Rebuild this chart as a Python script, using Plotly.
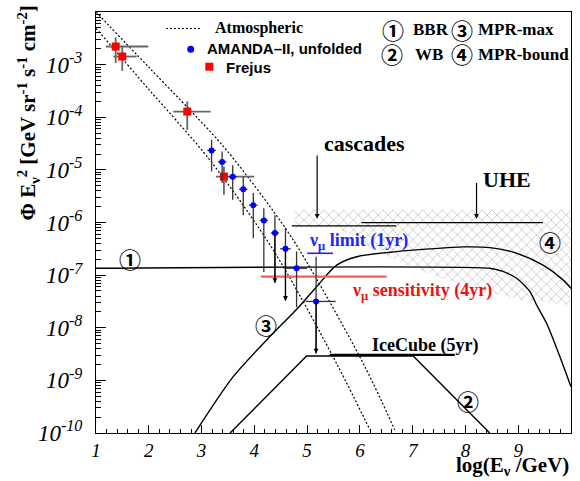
import numpy as np
import plotly.graph_objects as go

# ---------------- data (x = log10(E/GeV), y = log10 flux) ----------------
atm_hi_x = [1.0, 2.0, 3.19, 3.60, 4.61, 5.116, 6.095, 6.66]
atm_hi_y = [-2.0, -3.05, -4.30, -4.78, -6.14, -6.964, -8.74, -9.94]
atm_lo_x = [1.0, 2.0, 3.13, 4.11, 4.62, 5.59, 6.19]
atm_lo_y = [-2.31, -3.47, -4.78, -6.14, -6.96, -8.74, -9.94]

amanda_x = [3.19, 3.39, 3.59, 3.79, 3.98, 4.18, 4.39, 4.59, 4.80, 5.17]
amanda_y = [-4.63, -4.85, -5.13, -5.37, -5.67, -5.96, -6.20, -6.50, -6.87, -7.50]
amanda_hi = [-4.43, -4.65, -4.91, -5.13, -5.44, -5.73, -5.86, -6.10, -6.55, -6.65]
amanda_lo = [-5.03, -5.25, -5.57, -5.86, -6.30, -6.94, -7.15, -7.49, -7.61, -8.49]
amanda_xm = [0.08, 0.08, 0.08, 0.08, 0.08, 0.08, 0.08, 0.1, 0.2, 0.2]
amanda_xp = [0.08, 0.08, 0.08, 0.08, 0.08, 0.08, 0.08, 0.1, 0.2, 0.37]
amanda_arrow = [False, False, False, False, False, False, True, True, False, True]

frejus_x = [1.373, 1.498, 2.729, 3.424]
frejus_y = [-2.656, -2.846, -3.892, -5.127]
frejus_hi = [-2.485, -2.656, -3.70, -4.937]
frejus_lo = [-2.971, -3.118, -4.24, -5.475]
frejus_xlo = [1.189, 1.328, 2.464, 3.273]
frejus_xhi = [1.99, 1.771, 3.172, 3.998]

bbr_x = [1.0, 8.46, 8.71, 8.97, 9.22, 9.35, 9.54, 9.79, 10.0]
bbr_y = [-6.87, -6.87, -6.93, -7.06, -7.31, -7.57, -7.92, -8.55, -9.12]

wb_x = [3.54, 4.99, 7.01, 8.46]
wb_y = [-10.0, -8.536, -8.536, -10.0]

mpr_x = [2.875, 3.60, 4.233, 4.82, 5.18, 5.56, 5.94, 6.695, 7.326, 7.957, 8.462, 8.968, 9.47, 9.85, 10.0]
mpr_y = [-10.0, -8.93, -8.232, -7.63, -7.22, -6.81, -6.65, -6.553, -6.502, -6.464, -6.477, -6.584, -6.81, -7.09, -7.25]

hatch_x = [4.769, 10.0, 10.0, 9.03, 8.27, 7.515, 6.758, 6.19, 5.716, 5.527, 4.769]
hatch_y = [-5.76, -5.76, -7.57, -7.47, -7.28, -7.05, -6.75, -6.48, -6.18, -6.10, -6.10]

cascade_x = [4.71, 6.69]
cascade_y = -6.065
uhe_x = [6.03, 9.47]
uhe_y = -6.002
limit_x = [5.0, 5.49]
limit_y = -6.585
sens_x = [4.125, 6.505]
sens_y = -7.03
icecube_x = [5.43, 7.80]
icecube_y = -8.517

cascade_arrow = (5.19, -4.70, -5.93)
uhe_arrow = (8.21, -5.22, -5.93)

y_decades = [-3, -4, -5, -6, -7, -8, -9, -10]
x_ticks = [1, 2, 3, 4, 5, 6, 7, 8, 9, 10]

SERIF = "Liberation Serif, Times New Roman, serif"
SANS = "Liberation Sans, Arial, sans-serif"
CIRC = "Noto Sans CJK JP, DejaVu Sans, serif"

p10 = lambda v: [10.0 ** a for a in v]

fig = go.Figure()

# hatched region
fig.add_trace(go.Scatter(x=hatch_x, y=p10(hatch_y), mode="lines", fill="toself",
                         line=dict(width=0), fillcolor="rgba(255,255,255,0)",
                         fillpattern=dict(shape="x", fgcolor="#8c8c8c", bgcolor="rgba(255,255,255,0)",
                                          size=7, solidity=0.22),
                         hoverinfo="skip", showlegend=False))

# atmospheric
for xs, ys in [(atm_hi_x, atm_hi_y), (atm_lo_x, atm_lo_y)]:
    fig.add_trace(go.Scatter(x=xs, y=p10(ys), mode="lines", line=dict(color="black", width=1.2, dash="2px,2px"),
                             line_shape="spline", showlegend=False))

# model curves
fig.add_trace(go.Scatter(x=bbr_x, y=p10(bbr_y), mode="lines", line=dict(color="black", width=1.4, shape="spline", smoothing=0.6), showlegend=False))
fig.add_trace(go.Scatter(x=wb_x, y=p10(wb_y), mode="lines", line=dict(color="black", width=1.4), showlegend=False))
fig.add_trace(go.Scatter(x=mpr_x, y=p10(mpr_y), mode="lines", line=dict(color="black", width=1.4, shape="spline", smoothing=0.8), showlegend=False))

# limits
fig.add_trace(go.Scatter(x=cascade_x, y=[10 ** cascade_y] * 2, mode="lines", line=dict(color="black", width=1.4), showlegend=False))
fig.add_trace(go.Scatter(x=uhe_x, y=[10 ** uhe_y] * 2, mode="lines", line=dict(color="black", width=1.4), showlegend=False))
fig.add_trace(go.Scatter(x=limit_x, y=[10 ** limit_y] * 2, mode="lines", line=dict(color="#2222ff", width=1.6), showlegend=False))
fig.add_trace(go.Scatter(x=sens_x, y=[10 ** sens_y] * 2, mode="lines", line=dict(color="#ff5a5a", width=2.2), showlegend=False))
fig.add_trace(go.Scatter(x=icecube_x, y=[10 ** icecube_y] * 2, mode="lines", line=dict(color="black", width=2.2), showlegend=False))

# Frejus
fy = np.array(p10(frejus_y))
fig.add_trace(go.Scatter(
    x=frejus_x, y=fy, mode="markers",
    marker=dict(symbol="square", size=8, color="#ff0000"),
    error_y=dict(type="data", symmetric=False, array=np.array(p10(frejus_hi)) - fy,
                 arrayminus=fy - np.array(p10(frejus_lo)), color="#666666", thickness=1.8, width=0),
    error_x=dict(type="data", symmetric=False, array=np.array(frejus_xhi) - np.array(frejus_x),
                 arrayminus=np.array(frejus_x) - np.array(frejus_xlo), color="#666666", thickness=1.8, width=0),
    showlegend=False))

# AMANDA
ay_ = np.array(p10(amanda_y))
fig.add_trace(go.Scatter(
    x=amanda_x, y=ay_, mode="markers",
    marker=dict(symbol="circle", size=6, color="#0000ff"),
    error_y=dict(type="data", symmetric=False, array=np.array(p10(amanda_hi)) - ay_,
                 arrayminus=ay_ - np.array(p10(amanda_lo)), color="#333333", thickness=1.3, width=0),
    error_x=dict(type="data", symmetric=False, array=amanda_xp, arrayminus=amanda_xm,
                 color="#333333", thickness=1.3, width=0),
    showlegend=False))

ann = []
for xv, yv, lo, arr in zip(amanda_x, amanda_y, amanda_lo, amanda_arrow):
    if arr:
        ann.append(dict(x=xv, y=lo, ax=xv, ay=yv, xref="x", yref="y", axref="x", ayref="y",
                        showarrow=True, arrowhead=2, arrowsize=0.8, arrowwidth=1.2, arrowcolor="black", text=""))
for (xv, y0, y1) in [cascade_arrow, uhe_arrow]:
    ann.append(dict(x=xv, y=y1, ax=xv, ay=y0, xref="x", yref="y", axref="x", ayref="y",
                    showarrow=True, arrowhead=2, arrowsize=0.8, arrowwidth=1.2, arrowcolor="black", text=""))

# pixel helpers for layout decorations
L, R, T, B = 96, 571, 12, 433
px = lambda v: (v - L) / (R - L)
py = lambda v: (B - v) / (B - T)

def txt(text, x, y, size, color="black", family=SERIF, xanchor="center", ref="data"):
    if ref == "data":
        return dict(x=x, y=y, xref="x", yref="y", text=text, showarrow=False,
                    font=dict(family=family, size=size, color=color), xanchor=xanchor, yanchor="middle")
    return dict(x=px(x), y=py(y), xref="paper", yref="paper", text=text, showarrow=False,
                font=dict(family=family, size=size, color=color), xanchor=xanchor, yanchor="middle")

ann += [
    txt("<b>cascades</b>", 6.09, -4.49, 22),
    txt("<b>UHE</b>", 8.78, -5.19, 22),
    txt("<b>IceCube (5yr)</b>", 7.23, -8.33, 18),
    txt("<b>ν<sub>μ</sub> sensitivity (4yr)</b>", 7.18, -7.31, 18, color="#ee1111"),
    txt("<b>ν<sub>μ</sub> limit (1yr)</b>", 5.0, -6.36, 18, color="#2222ff", xanchor="left"),
    txt("<b>①</b>", 1.64, -6.68, 22, family=CIRC),
    txt("<b>②</b>", 8.05, -9.37, 22, family=CIRC),
    txt("<b>③</b>", 4.22, -7.93, 22, family=CIRC),
    txt("<b>④</b>", 9.60, -6.36, 22, family=CIRC),
    # legend block
    txt("<b>Atmospheric</b>", 213, 28, 16, xanchor="left", ref="px"),
    txt("<b>AMANDA–II, unfolded</b>", 205, 49, 15, family=SANS, xanchor="left", ref="px"),
    txt("<b>Frejus</b>", 224, 67, 15, family=SANS, xanchor="left", ref="px"),
    txt("<b>①</b>", 393, 29, 22, family=CIRC, ref="px"),
    txt("<b>BBR</b>", 411, 29, 17, xanchor="left", ref="px"),
    txt("<b>③</b>", 462, 29, 22, family=CIRC, ref="px"),
    txt("<b>MPR-max</b>", 476, 29, 17, xanchor="left", ref="px"),
    txt("<b>②</b>", 392, 53, 22, family=CIRC, ref="px"),
    txt("<b>WB</b>", 413, 54, 17, xanchor="left", ref="px"),
    txt("<b>④</b>", 462, 53, 22, family=CIRC, ref="px"),
    txt("<b>MPR-bound</b>", 476, 54, 17, xanchor="left", ref="px"),
]

# axis titles
ann.append(dict(x=px(28), y=py(4), xref="paper", yref="paper", textangle=-90, showarrow=False,
                xanchor="center", yanchor="top",
                text="<b>Φ E<sub>ν</sub><sup>2</sup> [GeV sr<sup>-1</sup> s<sup>-1</sup> cm<sup>-2</sup>]</b>",
                font=dict(family=SERIF, size=21, color="black")))
ann.append(dict(x=1.0, y=py(466), xref="paper", yref="paper", showarrow=False,
                xanchor="right", yanchor="middle",
                text="<b>log(E<sub>ν</sub> /GeV)</b>", font=dict(family=SERIF, size=21, color="black")))

shapes = [
    dict(type="line", xref="paper", yref="paper", x0=px(166), x1=px(201), y0=py(28.5), y1=py(28.5),
         line=dict(color="black", width=1.2, dash="2px,2px")),
    dict(type="circle", xref="paper", yref="paper", xsizemode="pixel", ysizemode="pixel",
         xanchor=px(190.7), yanchor=py(49.3), x0=-3.5, x1=3.5, y0=-3.5, y1=3.5,
         fillcolor="#0000ff", line=dict(width=0)),
    dict(type="rect", xref="paper", yref="paper", xsizemode="pixel", ysizemode="pixel",
         xanchor=px(209.3), yanchor=py(66.7), x0=-4, x1=4, y0=-4, y1=4,
         fillcolor="#ff0000", line=dict(width=0)),
]

minor_y = [10.0 ** d * m for d in range(-10, -2) for m in range(2, 10)]

fig.update_layout(
    width=580, height=481, margin=dict(l=L, r=580 - R, t=T, b=481 - B),
    paper_bgcolor="white", plot_bgcolor="white", showlegend=False,
    annotations=ann, shapes=shapes,
    xaxis=dict(range=[1, 10], tickmode="array", tickvals=x_ticks, ticktext=[str(v) for v in x_ticks],
               ticks="inside", ticklen=8, tickwidth=1, tickcolor="black",
               minor=dict(dtick=0.2, tick0=1, ticks="inside", ticklen=4, tickcolor="black"),
               showline=True, linecolor="black", linewidth=1, mirror=True, showgrid=False, zeroline=False,
               automargin=False,
               tickfont=dict(family=SERIF, size=19, style="italic", color="black")),
    yaxis=dict(type="log", range=[-10, -2], tickmode="array", tickvals=[10.0 ** d for d in y_decades],
               ticktext=["10<sup>%d</sup>" % d for d in y_decades],
               ticks="inside", ticklen=10, tickwidth=1, tickcolor="black",
               minor=dict(tickmode="array", tickvals=minor_y, ticks="inside", ticklen=5, tickcolor="black"),
               showline=True, linecolor="black", linewidth=1, mirror=True, showgrid=False, zeroline=False,
               ticklabelstandoff=8, automargin=False,
               tickfont=dict(family=SERIF, size=23, style="italic", color="black")),
)

fig.write_html("out.html", config={"displayModeBar": False},
               post_script="document.body.style.margin='0px';document.body.style.overflow='hidden';")
